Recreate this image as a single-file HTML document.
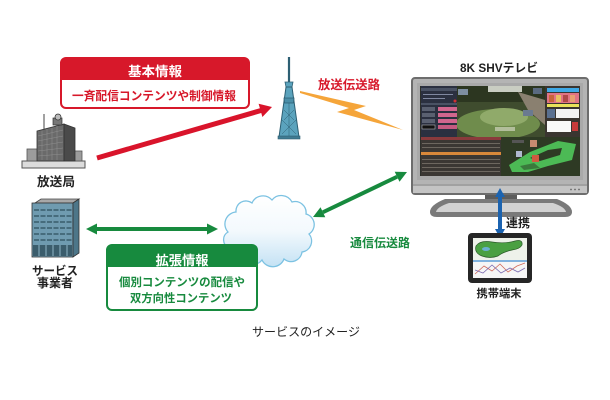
<!DOCTYPE html>
<html><head><meta charset="utf-8"><style>
html,body{margin:0;padding:0;background:#fff;}
svg{display:block;}
text{font-family:"Liberation Sans","Noto Sans CJK JP",sans-serif;}
</style></head><body>
<svg width="610" height="400" viewBox="0 0 610 400" xmlns="http://www.w3.org/2000/svg">
<defs>
<linearGradient id="cg" x1="0" y1="0" x2="0" y2="1">
<stop offset="0" stop-color="#ffffff"/><stop offset="0.5" stop-color="#f3f9fd"/><stop offset="1" stop-color="#c4e2f4"/>
</linearGradient>
<clipPath id="scr"><rect x="420" y="86" width="160" height="90"/></clipPath>
</defs>

<!-- Red box -->
<rect x="61" y="58" width="188" height="50" rx="5" fill="#fff" stroke="#d7182a" stroke-width="2"/>
<path d="M61,80 L61,63 Q61,58 66,58 L244,58 Q249,58 249,63 L249,80 Z" fill="#d7182a"/>
<text x="155" y="76" font-size="13" font-weight="bold" fill="#fff" text-anchor="middle" textLength="54" lengthAdjust="spacingAndGlyphs">基本情報</text>
<text x="154" y="100" font-size="12" font-weight="bold" fill="#d7182a" text-anchor="middle" textLength="164" lengthAdjust="spacingAndGlyphs">一斉配信コンテンツや制御情報</text>

<!-- Broadcast station -->
<rect x="22" y="161" width="63" height="7" fill="#dcdcdc" stroke="#555" stroke-width="1"/>
<rect x="27" y="149" width="12" height="12" fill="#9c9c9c" stroke="#555" stroke-width="0.8"/>
<rect x="72" y="151" width="10" height="10" fill="#9c9c9c" stroke="#555" stroke-width="0.8"/>
<polygon points="37,131 64,124 64,161 37,161" fill="#6a6a6a" stroke="#333" stroke-width="0.8"/>
<polygon points="64,124 75,128 75,161 64,161" fill="#4a4a4a" stroke="#333" stroke-width="0.8"/>
<g stroke="#8e8e8e" stroke-width="0.6">
<line x1="38" y1="136" x2="63" y2="130"/><line x1="38" y1="141" x2="63" y2="136"/><line x1="38" y1="146" x2="63" y2="142"/><line x1="38" y1="151" x2="63" y2="148"/><line x1="38" y1="156" x2="63" y2="154"/>
<line x1="42" y1="131" x2="42" y2="160"/><line x1="47" y1="129" x2="47" y2="160"/><line x1="52" y1="128" x2="52" y2="160"/><line x1="57" y1="126" x2="57" y2="160"/>
</g>
<rect x="53" y="118" width="9" height="7" fill="#777" stroke="#333" stroke-width="0.7"/>
<circle cx="58" cy="117" r="3" fill="#bbb" stroke="#333" stroke-width="0.8"/>
<line x1="44" y1="114" x2="44" y2="130" stroke="#444" stroke-width="1"/>
<text x="56" y="186" font-size="12.5" font-weight="bold" fill="#222" text-anchor="middle" textLength="38" lengthAdjust="spacingAndGlyphs">放送局</text>

<!-- Red arrow -->
<line x1="97" y1="158" x2="261" y2="110.5" stroke="#d9142b" stroke-width="5"/>
<polygon points="272,107 262.4,117 258.6,103.8" fill="#d9142b"/>

<!-- Tower -->
<line x1="289" y1="57" x2="289" y2="82" stroke="#2d5f73" stroke-width="2.2"/>
<polygon points="285,82 293,82 292,87 286,87" fill="#5ba3bd" stroke="#2d5f73" stroke-width="0.8"/>
<polygon points="286,87 292,87 299,137 279,137" fill="#5ba3bd" stroke="#2d5f73" stroke-width="1"/>
<polygon points="284,98 294,98 293.5,103 284.5,103" fill="#4b8fa8" stroke="#2d5f73" stroke-width="0.8"/>
<g stroke="#2d5f73" stroke-width="0.5">
<line x1="289" y1="103" x2="289" y2="137"/>
<line x1="284" y1="110" x2="294" y2="120"/><line x1="294" y1="110" x2="284" y2="120"/>
<line x1="282" y1="120" x2="296" y2="134"/><line x1="296" y1="120" x2="282" y2="134"/>
</g>
<rect x="278" y="136" width="22" height="3" fill="#3f7b92" stroke="#2d5f73" stroke-width="0.6"/>

<!-- Lightning -->
<polygon points="300,91 366,106 354,110 403,130 337,112 349,108 300,93" fill="#f5a53a"/>
<text x="349" y="89" font-size="12.5" font-weight="bold" fill="#d7182a" text-anchor="middle" textLength="62" lengthAdjust="spacingAndGlyphs">放送伝送路</text>

<!-- Service building -->
<polygon points="35,203 41,199 79,199 73,203" fill="#a8a8a8" stroke="#444" stroke-width="0.8"/>
<rect x="32" y="203" width="41" height="54" fill="#6f9bb0" stroke="#333" stroke-width="0.8"/>
<polygon points="73,203 79,199 79,253 73,257" fill="#4d7689" stroke="#333" stroke-width="0.8"/>
<g stroke="#2f4f5e" stroke-width="1.2" stroke-dasharray="5,1.5">
<line x1="34" y1="210" x2="72" y2="210"/><line x1="34" y1="216" x2="72" y2="216"/><line x1="34" y1="222" x2="72" y2="222"/><line x1="34" y1="228" x2="72" y2="228"/><line x1="34" y1="234" x2="72" y2="234"/><line x1="34" y1="240" x2="72" y2="240"/>
</g>
<rect x="33" y="245" width="39" height="11" fill="#3b5d6c"/>
<g stroke="#8fb5c6" stroke-width="1"><line x1="39" y1="245" x2="39" y2="256"/><line x1="46" y1="245" x2="46" y2="256"/><line x1="53" y1="245" x2="53" y2="256"/><line x1="60" y1="245" x2="60" y2="256"/><line x1="67" y1="245" x2="67" y2="256"/></g>
<text x="55" y="275" font-size="12" font-weight="bold" fill="#222" text-anchor="middle" textLength="46" lengthAdjust="spacingAndGlyphs">サービス</text>
<text x="55" y="287" font-size="12" font-weight="bold" fill="#222" text-anchor="middle" textLength="36" lengthAdjust="spacingAndGlyphs">事業者</text>

<!-- Green horizontal double arrow -->
<line x1="96" y1="229" x2="208" y2="229" stroke="#178a3e" stroke-width="4"/>
<polygon points="86,229 97,223.5 97,234.5" fill="#178a3e"/>
<polygon points="218,229 207,223.5 207,234.5" fill="#178a3e"/>

<!-- Cloud -->
<path d="M228,232 A12,12 0 0 1 236,212 A10,10 0 0 1 252,203 A12,12 0 0 1 272,200 A12,12 0 0 1 292,202 A11,11 0 0 1 306,214 A11,11 0 0 1 309,234 A11,11 0 0 1 302,252 A11,11 0 0 1 284,259 A12,12 0 0 1 262,260 A12,12 0 0 1 242,258 A9,9 0 0 1 229,248 A9,9 0 0 1 228,232 Z" fill="url(#cg)" stroke="#7cc2e2" stroke-width="1.3"/>

<!-- Green box -->
<rect x="107" y="245" width="150" height="65" rx="5" fill="#fff" stroke="#178a3e" stroke-width="2"/>
<path d="M107,267 L107,250 Q107,245 112,245 L252,245 Q257,245 257,250 L257,267 Z" fill="#178a3e"/>
<text x="182" y="265" font-size="13" font-weight="bold" fill="#fff" text-anchor="middle" textLength="53" lengthAdjust="spacingAndGlyphs">拡張情報</text>
<text x="182" y="286" font-size="11.5" font-weight="bold" fill="#178a3e" text-anchor="middle" textLength="126" lengthAdjust="spacingAndGlyphs">個別コンテンツの配信や</text>
<text x="181" y="302" font-size="11.5" font-weight="bold" fill="#178a3e" text-anchor="middle" textLength="102" lengthAdjust="spacingAndGlyphs">双方向性コンテンツ</text>

<!-- Green diagonal arrow -->
<line x1="322.9" y1="212.25" x2="397.1" y2="176.75" stroke="#178a3e" stroke-width="4"/>
<polygon points="407,172 399.5,181.7 394.7,171.8" fill="#178a3e"/>
<polygon points="313,217 325.3,217.2 320.5,207.3" fill="#178a3e"/>
<text x="380" y="247" font-size="12" font-weight="bold" fill="#178a3e" text-anchor="middle" textLength="60" lengthAdjust="spacingAndGlyphs">通信伝送路</text>

<!-- TV -->
<text x="499" y="72" font-size="12" font-weight="bold" fill="#222" text-anchor="middle" textLength="78" lengthAdjust="spacingAndGlyphs">8K SHVテレビ</text>
<rect x="485" y="192" width="32" height="10" fill="#5c5c5c"/>
<path d="M445,199 L557,199 Q572,205 572,212 Q572,217 565,217 L437,217 Q430,217 430,212 Q430,205 445,199 Z" fill="#7a7a7a"/>
<path d="M449,203 L553,203 Q565,207 566,212 L436,212 Q437,207 449,203 Z" fill="#d2d2d2"/>
<rect x="412" y="78" width="176" height="116" rx="3" fill="#b4b4b4" stroke="#6d6d6d" stroke-width="2"/>
<rect x="417" y="83" width="166" height="97" fill="#a9a9a9"/>
<line x1="413" y1="185" x2="587" y2="185" stroke="#8e8e8e" stroke-width="1"/>
<rect x="413" y="186" width="174" height="7" fill="#c4c4c4"/>
<circle cx="571" cy="189.5" r="0.9" fill="#666"/><circle cx="575" cy="189.5" r="0.9" fill="#666"/><circle cx="579" cy="189.5" r="0.9" fill="#666"/>

<g clip-path="url(#scr)">
<rect x="420" y="86" width="160" height="90" fill="#2d2f2a"/>
<rect x="457" y="86" width="88" height="51" fill="#3f4c2e"/>
<rect x="457" y="86" width="88" height="16" fill="#2c3620"/>
<rect x="488" y="86" width="34" height="6" fill="#c9cdc2"/>
<ellipse cx="498" cy="124" rx="42" ry="15" fill="#6f8c4c"/>
<ellipse cx="504" cy="117" rx="24" ry="9" fill="#90aa6a"/>
<polygon points="518,92 545,100 545,125 528,110" fill="#8a8070"/>
<rect x="458" y="89" width="10" height="6" fill="#7d8ea0"/>
<rect x="533" y="88" width="9" height="6" fill="#5a6a80"/>
<rect x="523" y="110" width="10" height="6" fill="#6a7a90"/>
<rect x="495" y="127" width="20" height="4" fill="#e0e0d0" opacity="0.6"/>
<rect x="421" y="86" width="36" height="51" fill="#2b3040"/>
<rect x="421" y="88" width="36" height="3" fill="#4a5264"/>
<rect x="423" y="94" width="30" height="1" fill="#8088a0"/><rect x="423" y="98" width="22" height="1" fill="#8088a0"/>
<circle cx="455" cy="101" r="1.5" fill="#d03030"/>
<rect x="421" y="103" width="36" height="2" fill="#4a5264"/>
<rect x="438" y="107" width="19" height="4" fill="#d2668e"/><rect x="438" y="113" width="19" height="4" fill="#d2668e"/><rect x="438" y="119" width="19" height="4" fill="#d2668e"/><rect x="438" y="125" width="19" height="4" fill="#c45a80"/>
<rect x="422" y="107" width="13" height="4" fill="#5a6070"/><rect x="422" y="113" width="13" height="4" fill="#5a6070"/><rect x="422" y="119" width="13" height="4" fill="#5a6070"/>
<rect x="422" y="125" width="13" height="4" fill="#111" stroke="#ccc" stroke-width="0.5"/>
<rect x="421" y="137" width="80" height="39" fill="#3b3733"/>
<rect x="421" y="137" width="80" height="3" fill="#8a3a3c"/>
<rect x="421" y="152" width="80" height="3" fill="#d8883a"/>
<g fill="#6d675f"><rect x="422" y="143" width="78" height="1"/><rect x="422" y="147" width="78" height="1"/><rect x="422" y="159" width="78" height="1"/><rect x="422" y="163" width="78" height="1"/><rect x="422" y="167" width="78" height="1"/><rect x="422" y="171" width="78" height="1"/></g>
<rect x="501" y="137" width="79" height="39" fill="#2e3a24"/>
<rect x="512" y="140" width="12" height="3" fill="#555"/>
<polygon points="509,165 530,152 558,141 576,144 572,160 548,166 528,172 512,172" fill="#4cba55"/>
<polygon points="530,158 548,150 562,148 560,155 540,161" fill="#2e3a24"/>
<polygon points="520,166 534,163 540,168 524,170" fill="#3a7a3c"/>
<rect x="530" y="140" width="7" height="7" fill="#c88a70"/>
<rect x="516" y="151" width="6" height="6" fill="#b0b8d0"/>
<rect x="532" y="155" width="7" height="7" fill="#d05a40"/>
<rect x="545" y="86" width="35" height="51" fill="#3a3530"/>
<rect x="547" y="88" width="32" height="4" fill="#3fa9e6"/>
<rect x="547" y="93" width="32" height="10" fill="#e07484"/>
<rect x="549" y="95" width="5" height="7" fill="#c8643a"/><rect x="556" y="95" width="5" height="7" fill="#e8c060"/><rect x="563" y="95" width="5" height="7" fill="#b04848"/><rect x="570" y="95" width="5" height="7" fill="#e8a070"/>
<rect x="547" y="104" width="32" height="3" fill="#e9e25a"/>
<rect x="547" y="109" width="8" height="9" fill="#5a7090"/>
<rect x="556" y="109" width="23" height="9" fill="#f2f2f2"/>
<rect x="547" y="121" width="24" height="11" fill="#f8f8f8"/>
<rect x="572" y="122" width="6" height="9" fill="#c83a3a"/>
</g>

<!-- Blue arrow -->
<line x1="500" y1="196" x2="500" y2="230" stroke="#1b63b0" stroke-width="4"/>
<polygon points="500,188 505,197 495,197" fill="#1b63b0"/>
<polygon points="500,238 505,229 495,229" fill="#1b63b0"/>
<text x="518" y="227" font-size="12" font-weight="bold" fill="#222" text-anchor="middle" textLength="24" lengthAdjust="spacingAndGlyphs">連携</text>

<!-- Tablet -->
<rect x="468" y="233" width="64" height="50" rx="4" fill="#262626"/>
<rect x="473" y="238" width="54" height="40" fill="#f6f6f6"/>
<rect x="473" y="238" width="54" height="22" fill="#eef2ea"/>
<path d="M476,246 Q480,240 492,242 Q505,244 515,241 Q523,239 522,245 Q520,249 512,250 Q503,252 498,256 Q490,259 482,256 Q474,253 476,246 Z" fill="#4aa042" stroke="#2a5a28" stroke-width="0.7"/>
<ellipse cx="486" cy="249" rx="4" ry="2" fill="#6ab0d0"/>
<line x1="473" y1="261" x2="527" y2="261" stroke="#3a8ad0" stroke-width="1.2"/>
<polyline points="475,274 484,266 492,271 500,264 508,272 517,266 525,263" fill="none" stroke="#d06a5a" stroke-width="0.8"/>
<polyline points="475,270 483,273 492,265 501,273 510,268 518,272 525,268" fill="none" stroke="#7a6ab0" stroke-width="0.8"/>
<text x="499" y="297" font-size="11" font-weight="bold" fill="#222" text-anchor="middle" textLength="45" lengthAdjust="spacingAndGlyphs">携帯端末</text>

<!-- Caption -->
<text x="306" y="336" font-size="12" fill="#222" text-anchor="middle" textLength="108" lengthAdjust="spacingAndGlyphs">サービスのイメージ</text>
</svg>
</body></html>
